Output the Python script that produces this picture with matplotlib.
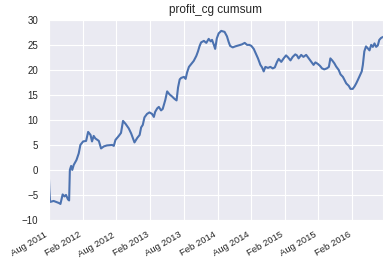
import pandas as pd
import matplotlib
matplotlib.use("Agg")
import matplotlib.pyplot as plt
import matplotlib.dates as mdates
import seaborn as sns

# cumulative profit
dates = [
    "2011-08-01", "2011-08-05", "2011-08-09", "2011-08-28", "2011-09-25", "2011-10-04",
    "2011-10-16", "2011-10-26", "2011-11-03", "2011-11-14", "2011-11-20", "2011-11-24",
    "2011-12-01", "2011-12-07", "2011-12-15", "2011-12-30", "2012-01-11", "2012-01-20",
    "2012-02-04", "2012-02-20", "2012-03-02", "2012-03-15", "2012-03-23", "2012-04-01",
    "2012-04-10", "2012-04-29", "2012-05-11", "2012-05-26", "2012-06-12", "2012-07-10",
    "2012-07-19", "2012-07-28", "2012-08-15", "2012-08-27", "2012-09-07", "2012-09-21",
    "2012-10-08", "2012-10-21", "2012-11-08", "2012-11-23", "2012-12-06", "2012-12-14",
    "2012-12-23", "2013-01-01", "2013-01-15", "2013-01-28", "2013-02-11", "2013-02-21",
    "2013-02-28", "2013-03-11", "2013-03-20", "2013-04-01", "2013-04-10", "2013-04-24",
    "2013-05-04", "2013-05-17", "2013-05-30", "2013-06-13", "2013-06-24", "2013-07-02",
    "2013-07-11", "2013-07-19", "2013-08-03", "2013-08-12", "2013-08-20", "2013-08-30",
    "2013-09-12", "2013-09-25", "2013-10-09", "2013-10-18", "2013-10-27", "2013-11-04",
    "2013-11-19", "2013-12-02", "2013-12-15", "2013-12-26", "2014-01-02", "2014-01-12",
    "2014-01-19", "2014-01-28", "2014-02-07", "2014-02-21", "2014-03-11", "2014-03-24",
    "2014-04-02", "2014-04-10", "2014-04-24", "2014-05-08", "2014-05-26", "2014-06-13",
    "2014-06-28", "2014-07-11", "2014-07-23", "2014-08-03", "2014-08-16", "2014-08-28",
    "2014-09-08", "2014-09-21", "2014-09-30", "2014-10-09", "2014-10-18", "2014-11-01",
    "2014-11-14", "2014-11-27", "2014-12-08", "2014-12-20", "2014-12-29", "2015-01-12",
    "2015-01-25", "2015-02-07", "2015-02-18", "2015-03-03", "2015-03-15", "2015-03-29",
    "2015-04-07", "2015-04-16", "2015-04-30", "2015-05-12", "2015-05-27", "2015-06-10",
    "2015-06-22", "2015-07-06", "2015-07-16", "2015-07-29", "2015-08-10", "2015-08-21",
    "2015-09-02", "2015-09-16", "2015-09-27", "2015-10-05", "2015-10-15", "2015-10-27",
    "2015-11-05", "2015-11-19", "2015-11-29", "2015-12-12", "2015-12-20", "2015-12-30",
    "2016-01-13", "2016-01-22", "2016-02-03", "2016-02-13", "2016-02-22", "2016-03-02",
    "2016-03-14", "2016-03-23", "2016-03-29", "2016-04-06", "2016-04-15", "2016-04-25",
    "2016-05-04", "2016-05-13", "2016-05-22", "2016-05-31", "2016-06-09", "2016-06-18",
    "2016-06-26", "2016-07-06", "2016-07-17",
]
profit_cumsum = [
    0.0, -4.0, -6.4, -6.2, -6.6, -6.8,
    -4.9, -5.3, -5.0, -5.9, -6.1, 0.0,
    0.8, 0.0, 1.0, 2.0, 3.3, 5.0,
    5.7, 5.8, 7.6, 7.0, 5.7, 6.8,
    6.3, 5.8, 4.3, 4.7, 4.9, 5.0,
    4.8, 6.0, 6.8, 7.4, 9.8, 9.2,
    8.3, 7.3, 5.5, 6.4, 7.0, 8.5,
    9.0, 10.5, 11.2, 11.5, 11.2, 10.6,
    11.6, 12.3, 12.6, 11.9, 12.2, 14.0,
    15.7, 15.1, 14.7, 14.2, 13.9, 16.5,
    18.1, 18.4, 18.6, 18.2, 19.5, 20.6,
    21.2, 21.8, 22.8, 23.7, 24.8, 25.5,
    25.8, 25.4, 26.2, 25.7, 26.0, 25.0,
    24.2, 26.3, 27.3, 27.8, 27.6, 26.7,
    25.6, 24.8, 24.5, 24.7, 24.9, 25.1,
    25.4, 25.0, 25.0, 24.8, 24.2, 23.2,
    22.3, 21.0, 20.5, 19.7, 20.6, 20.4,
    20.6, 20.3, 20.5, 21.6, 22.2, 21.6,
    22.3, 22.9, 22.5, 21.9, 22.6, 23.1,
    22.9, 22.3, 23.0, 22.6, 23.0, 22.3,
    21.7, 21.0, 21.5, 21.2, 20.8, 20.3,
    20.1, 20.3, 20.6, 22.3, 21.9, 21.3,
    20.7, 20.0, 19.1, 18.6, 18.0, 17.3,
    16.8, 16.2, 16.2, 16.7, 17.3, 18.0,
    19.0, 19.7, 21.0, 23.7, 24.7, 24.3,
    23.9, 25.0, 24.6, 25.3, 24.6, 24.9,
    26.0, 26.4, 26.6,
]
title = "profit_cg cumsum"

sns.set_style("darkgrid")
plt.rcParams["font.family"] = ["Liberation Sans", "DejaVu Sans"]

s = pd.Series(profit_cumsum, index=pd.to_datetime(dates))

fig = plt.figure(figsize=(3.89, 2.65), dpi=100)
ax = fig.add_axes([0.125, 0.17, 0.86, 0.755])
ax.plot(s.index, s.values, color="#4C72B0", lw=1.5)
ax.set_xlim(s.index[0], s.index[-1])
ax.set_ylim(-10, 30)
ax.xaxis.set_major_locator(mdates.MonthLocator(bymonth=[2, 8]))
ax.xaxis.set_major_formatter(mdates.DateFormatter("%b %Y"))
for lab in ax.get_xticklabels():
    lab.set_rotation(30)
    lab.set_ha("right")
ax.tick_params(axis="y", labelsize=7, pad=4)
ax.tick_params(axis="x", labelsize=6.8, pad=4)
ax.set_title(title, fontsize=8.5, pad=5)
fig.savefig("out.png", dpi=100)
